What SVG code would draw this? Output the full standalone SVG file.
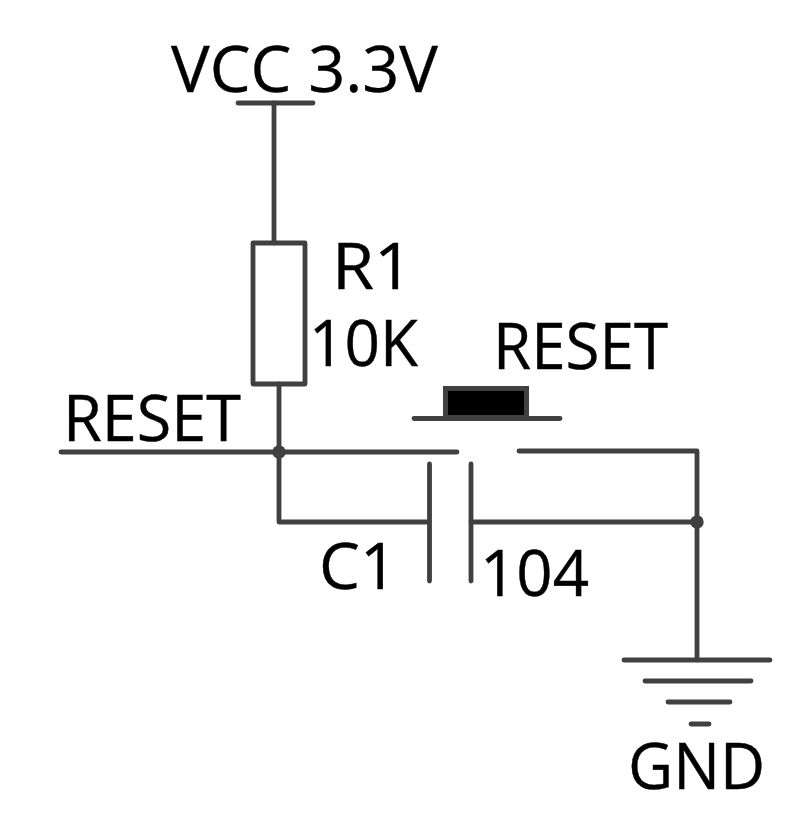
<svg xmlns="http://www.w3.org/2000/svg" width="810" height="824" viewBox="0 0 810 824">
<style>
.w{fill:none;stroke:#404040;stroke-width:4.8;stroke-linecap:round;stroke-linejoin:round}
.t{font-family:"Open Sans","Noto Sans",sans-serif;font-size:64px;fill:#000;stroke:#000;stroke-width:.4}
.j{fill:#404040}
</style>
<rect width="810" height="824" fill="#fff"/>
<g id="connectors">
<path class="w" d="M274 103V243M279 384V522H429M61 452H457M519 451H697V660M471 522H697"/>
</g>
<g id="vcc"><path class="w" d="M238 103H313"/><text class="t" x="171" y="92" textLength="267" lengthAdjust="spacingAndGlyphs">VCC 3.3V</text></g>
<g id="r1"><rect class="w" x="253" y="243" width="52" height="141"/><text class="t" x="332" y="289" textLength="81" lengthAdjust="spacingAndGlyphs">R1</text><text class="t" x="309" y="366" textLength="109" lengthAdjust="spacingAndGlyphs">10K</text></g>
<g id="reset-label"><text class="t" x="63" y="441" textLength="178" lengthAdjust="spacingAndGlyphs">RESET</text></g>
<g id="j1"><circle class="j" cx="279" cy="452" r="6.700"/></g>
<g id="j2"><circle class="j" cx="697" cy="522" r="6.700"/></g>
<g id="sw"><path class="w" d="M414 418.500H560"/><rect x="445.500" y="388.500" width="81" height="29" fill="#000" stroke="#404040" stroke-width="5"/><text class="t" x="493" y="369" textLength="175" lengthAdjust="spacingAndGlyphs">RESET</text></g>
<g id="c1"><path class="w" d="M429.500 464V581M471 464V581"/><text class="t" x="319" y="589" textLength="78" lengthAdjust="spacingAndGlyphs">C1</text><text class="t" x="480" y="596" textLength="109" lengthAdjust="spacingAndGlyphs">104</text></g>
<g id="gnd"><path class="w" d="M624 660H770M645 681H751M668 702H730M691 724H709"/><text class="t" x="628" y="789" textLength="137" lengthAdjust="spacingAndGlyphs">GND</text></g>
</svg>
